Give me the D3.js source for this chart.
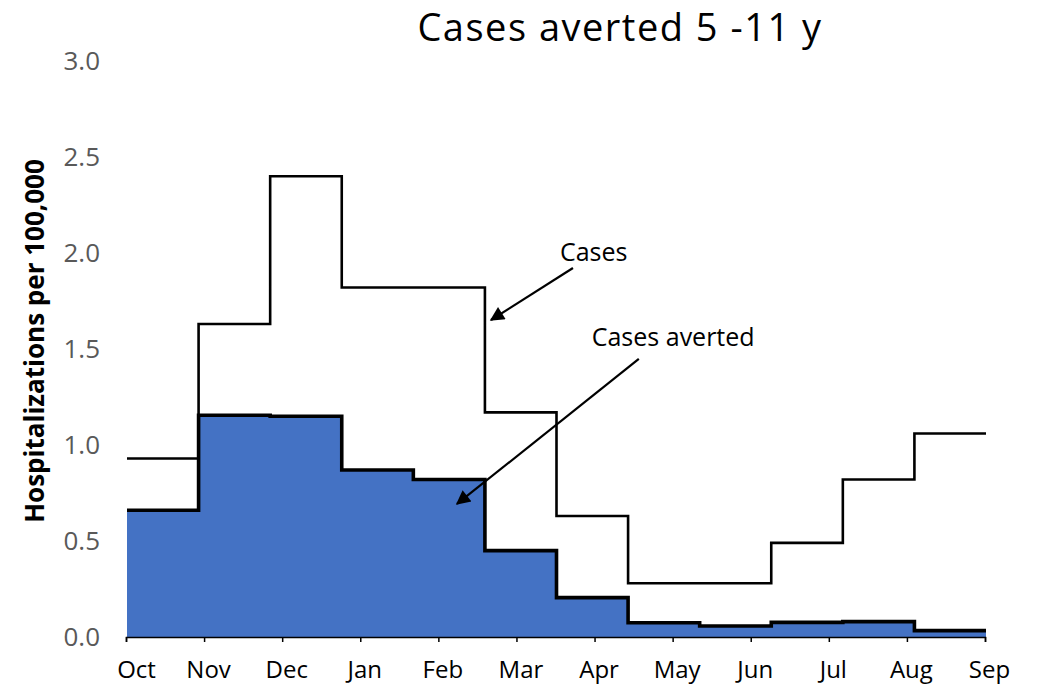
<!DOCTYPE html>
<html>
<head>
<meta charset="utf-8">
<script src="https://cdn.jsdelivr.net/npm/d3@7"></script>
<style>
  body { margin: 0; background: #fff; }
  svg text { font-family: "Open Sans", "Noto Sans", sans-serif; }
</style>
</head>
<body>
<svg id="chart" width="1046" height="686"></svg>
<script>
// month labels on the date axis
var months = ["Oct", "Nov", "Dec", "Jan", "Feb", "Mar", "Apr", "May", "Jun", "Jul", "Aug", "Sep"];
// hospitalizations per 100,000, one value per month
var cases = [0.93, 1.63, 2.40, 1.82, 1.82, 1.17, 0.63, 0.28, 0.28, 0.49, 0.82, 1.06];
var averted = [0.66, 1.155, 1.15, 0.87, 0.82, 0.45, 0.205, 0.074, 0.057, 0.076, 0.08, 0.033];
var yTicks = [0, 0.5, 1.0, 1.5, 2.0, 2.5, 3.0];

// annotations, in (month index, value) units
var notes = [
    { text: "Cases", tx: 6.52, ty: 1.958, x1: 6.23, y1: 1.922, x2: 5.085, y2: 1.651 },
    { text: "Cases averted", tx: 7.63, ty: 1.516, x1: 7.15, y1: 1.448, x2: 4.61, y2: 0.693 }
];

var svg = d3.select("#chart");

var x = d3.scaleLinear().domain([0, 12]).range([127, 986]);
var xAxisScale = d3.scalePoint().domain(months).range([126, 985]);
var y = d3.scaleLinear().domain([0, 3]).range([637, 61]);

function steps(vals) {
    var pts = vals.map(function (v, i) { return { i: i, v: v }; });
    pts.push({ i: vals.length, v: vals[vals.length - 1] });
    return pts;
}

// title
svg.append("text")
    .attr("x", 620)
    .attr("y", 41)
    .attr("text-anchor", "middle")
    .style("font-size", "38px")
    .style("letter-spacing", "1.5px")
    .style("fill", "#000")
    .text("Cases averted 5 -11 y");

// averted area
var area = d3.area()
    .curve(d3.curveStepAfter)
    .x(function (d) { return x(d.i); })
    .y0(y(0))
    .y1(function (d) { return y(d.v); });

svg.append("path")
    .datum(steps(averted))
    .attr("d", area)
    .attr("fill", "#4472C4");

var line = d3.line()
    .curve(d3.curveStepAfter)
    .x(function (d) { return x(d.i); })
    .y(function (d) { return y(d.v); });

svg.append("path")
    .datum(steps(cases))
    .attr("d", line)
    .attr("fill", "none")
    .attr("stroke", "#000")
    .attr("stroke-width", 2.6);

svg.append("path")
    .datum(steps(averted))
    .attr("d", line)
    .attr("fill", "none")
    .attr("stroke", "#000")
    .attr("stroke-width", 3.6);

// x axis
var xAxis = svg.append("g")
    .attr("transform", "translate(0," + y(0) + ")")
    .call(d3.axisBottom(xAxisScale).tickSize(5).tickPadding(19));
xAxis.select(".domain").attr("stroke", "#000").attr("stroke-width", 1.5);
xAxis.selectAll(".tick line").attr("stroke", "#000").attr("stroke-width", 1.5);
xAxis.selectAll(".tick text")
    .attr("dx", function (d, i) { return i == 0 ? 10 : 4; })
    .style("font-size", "24px")
    .style("fill", "#000");

// y axis (labels only)
var yAxis = svg.append("g")
    .attr("transform", "translate(100,0)")
    .call(d3.axisLeft(y).tickValues(yTicks).tickSize(0).tickPadding(0)
        .tickFormat(d3.format(".1f")));
yAxis.select(".domain").remove();
yAxis.selectAll(".tick text")
    .style("font-size", "26px")
    .style("fill", "#595959");

svg.append("text")
    .attr("transform", "translate(44,341) rotate(-90)")
    .attr("text-anchor", "middle")
    .style("font-size", "26px")
    .style("font-weight", "bold")
    .style("fill", "#000")
    .text("Hospitalizations per 100,000");

// arrows
svg.append("defs").append("marker")
    .attr("id", "head")
    .attr("viewBox", "0 0 10 10")
    .attr("refX", 9)
    .attr("refY", 5)
    .attr("markerWidth", 8)
    .attr("markerHeight", 6.5)
    .attr("markerUnits", "strokeWidth")
    .attr("orient", "auto")
    .append("path")
    .attr("d", "M0,0L10,5L0,10Z")
    .attr("fill", "#000");

var note = svg.append("g").selectAll("g")
    .data(notes)
    .enter().append("g");

note.append("line")
    .attr("x1", function (d) { return x(d.x1); })
    .attr("y1", function (d) { return y(d.y1); })
    .attr("x2", function (d) { return x(d.x2); })
    .attr("y2", function (d) { return y(d.y2); })
    .attr("stroke", "#000")
    .attr("stroke-width", 2.2)
    .attr("marker-end", "url(#head)");

note.append("text")
    .attr("x", function (d) { return x(d.tx); })
    .attr("y", function (d) { return y(d.ty); })
    .attr("text-anchor", "middle")
    .style("font-size", "25px")
    .style("fill", "#000")
    .text(function (d) { return d.text; });
</script>
</body>
</html>
